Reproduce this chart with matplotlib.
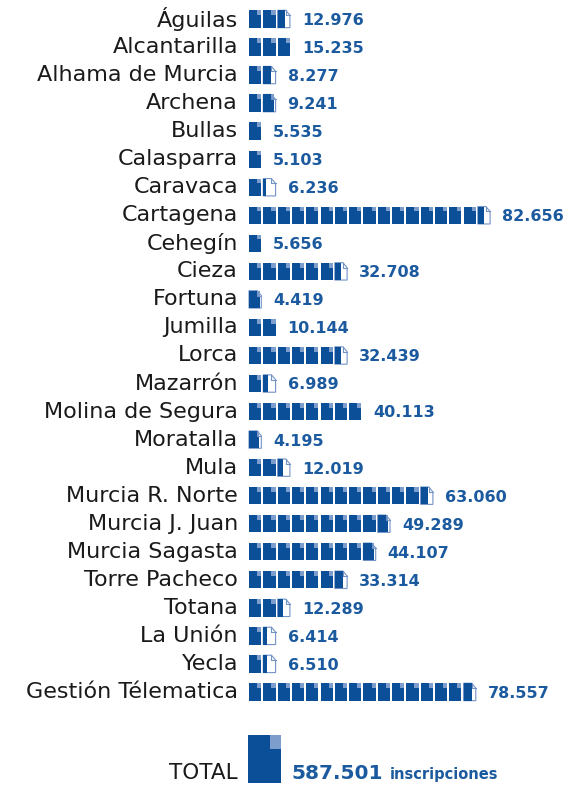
import matplotlib as mpl
mpl.use('Agg')
import matplotlib.pyplot as plt
from matplotlib.patches import Rectangle, Polygon

centros = ['Águilas', 'Alcantarilla', 'Alhama de Murcia', 'Archena', 'Bullas',
           'Calasparra', 'Caravaca', 'Cartagena', 'Cehegín', 'Cieza', 'Fortuna',
           'Jumilla', 'Lorca', 'Mazarrón', 'Molina de Segura', 'Moratalla', 'Mula',
           'Murcia R. Norte', 'Murcia J. Juan', 'Murcia Sagasta', 'Torre Pacheco',
           'Totana', 'La Unión', 'Yecla', 'Gestión Télematica']
inscripciones = [12976, 15235, 8277, 9241, 5535, 5103, 6236, 82656, 5656, 32708,
                 4419, 10144, 32439, 6989, 40113, 4195, 12019, 63060, 49289, 44107,
                 33314, 12289, 6414, 6510, 78557]
total = 587501
unidad = 5000  # inscripciones por icono

azul = '#0b4f98'
azul_claro = '#7d9dcc'
borde = '#7393c6'
azul_texto = '#1c5a9f'

# escala: 14.3 px por icono, 28 px por fila
px_x, px_y = 14.3, 28.04
fig = plt.figure(figsize=(5.67, 7.89), dpi=100)
ax = fig.add_axes([0, 0, 1, 1])
ax.set_xlim(-249 / px_x, (567 - 249) / px_x)
ax.set_ylim((789 - 19) / px_y, -19 / px_y)
ax.axis('off')

W, H = 0.86, 0.62      # tamaño de un icono
NW, NH = 0.34, 0.28    # esquina doblada


def icono(x, y, w, h, frac=1.0):
    top, bot = y - h / 2, y + h / 2
    fw, fh = w * NW, h * NH
    if frac < 1:
        ax.add_patch(Polygon([(x, top), (x + w - fw, top), (x + w, top + fh),
                              (x + w, bot), (x, bot)], closed=True,
                             fc='white', ec=borde, lw=0.8))
        ax.plot([x + w - fw, x + w - fw, x + w], [top, top + fh, top + fh],
                color=borde, lw=0.8)
    ax.add_patch(Rectangle((x, top), w * frac, h, fc=azul, ec='none'))
    if frac > 1 - NW:
        ax.add_patch(Rectangle((x + w - fw, top), fw - w * (1 - frac), fh,
                               fc=azul_claro, ec='none'))


for fila, (nombre, valor) in enumerate(zip(centros, inscripciones)):
    n = valor / unidad
    llenos = int(n)
    resto = n - llenos
    for i in range(llenos):
        icono(i, fila, W, H)
    huecos = llenos
    if resto >= 0.2 or llenos == 0:
        icono(llenos, fila, W, H, resto)
        huecos += 1
    ax.text(-11 / px_x, fila, nombre, ha='right', va='center',
            fontsize=16, color='#1a1a1a')
    ax.text(huecos + 0.7, fila + 0.05, f'{valor:,}'.replace(',', '.'),
            ha='left', va='center', fontsize=11.5, fontweight='bold',
            color=azul_texto)

# total
fila_total = 26.4
icono(-0.05, fila_total, 2.3, 1.71)
base = fila_total + 0.72
ax.text(-11 / px_x, base, 'TOTAL', ha='right', va='baseline',
        fontsize=15.5, color='#1a1a1a')
t = ax.text(3.0, base, f'{total:,}'.replace(',', '.'), ha='left', va='baseline',
            fontsize=14.5, fontweight='bold', color=azul_texto)
fig.canvas.draw()
x_fin = ax.transData.inverted().transform((t.get_window_extent().x1, 0))[0]
ax.text(x_fin + 0.45, base, 'inscripciones', ha='left', va='baseline',
        fontsize=10.5, fontweight='bold', color=azul_texto)

fig.savefig('out.png', dpi=100)
